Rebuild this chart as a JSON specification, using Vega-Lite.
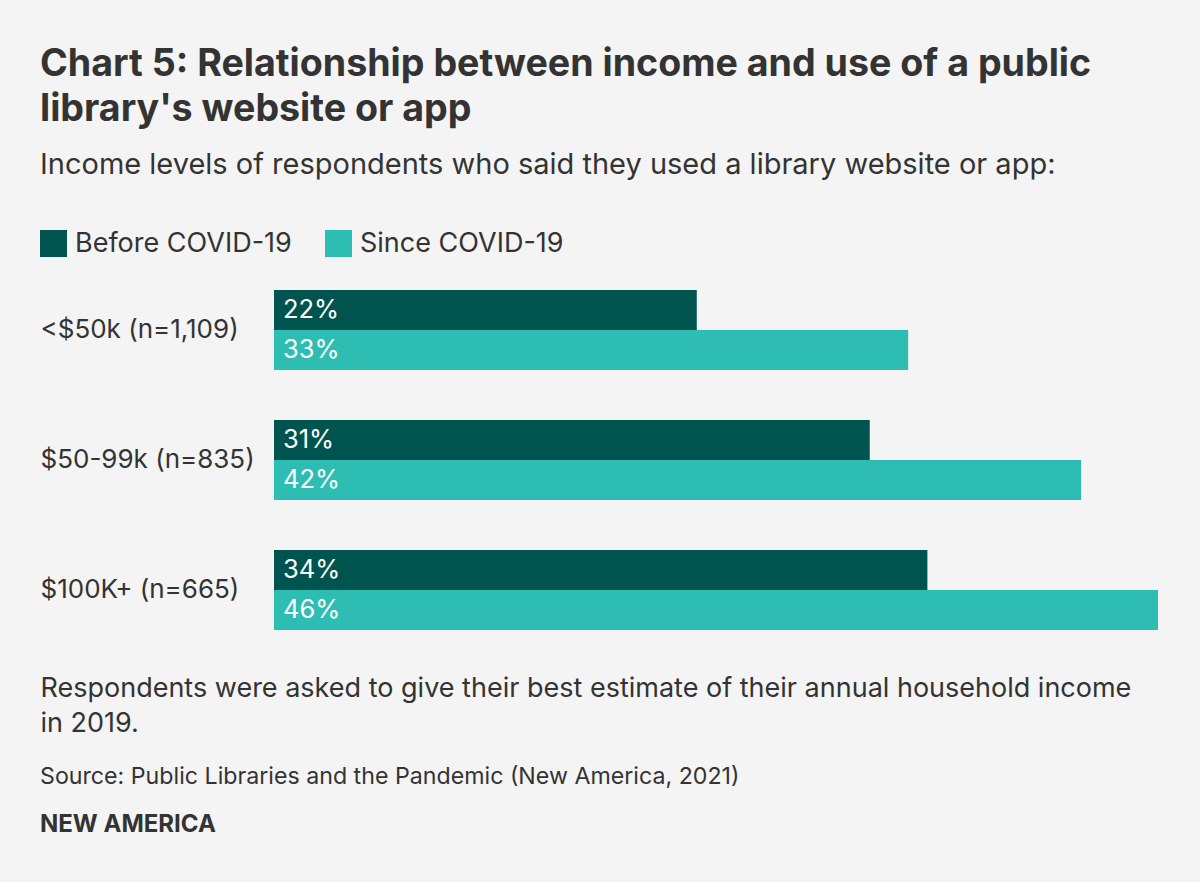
{
  "$schema": "https://vega.github.io/schema/vega-lite/v6.json",
  "background": "#f4f4f4",
  "padding": {"left": 40, "top": 46, "right": 42, "bottom": 50},
  "title": {
    "text": "Source: Public Libraries and the Pandemic (New America, 2021)",
    "subtitle": "NEW AMERICA",
    "orient": "bottom",
    "anchor": "start",
    "font": "Inter",
    "fontSize": 23.2,
    "fontWeight": "normal",
    "color": "#333333",
    "subtitleFont": "Inter",
    "subtitleFontSize": 24,
    "subtitleFontWeight": "bold",
    "subtitleColor": "#333333",
    "subtitlePadding": 24,
    "offset": 30
  },
  "vconcat": [
    {
      "title": {
        "text": ["Chart 5: Relationship between income and use of a public", "library's website or app"],
        "subtitle": "Income levels of respondents who said they used a library website or app:",
        "anchor": "start",
        "font": "Inter",
        "fontSize": 37.6,
        "fontWeight": "bold",
        "lineHeight": 45,
        "color": "#333333",
        "subtitleFont": "Inter",
        "subtitleFontSize": 29,
        "subtitleColor": "#333333",
        "subtitlePadding": 22,
        "offset": 110
      },
      "width": 884,
      "height": 340,
      "data": {
        "values": [
          {"group": "<$50k (n=1,109)", "period": "Before COVID-19", "value": 0.22},
          {"group": "<$50k (n=1,109)", "period": "Since COVID-19", "value": 0.33},
          {"group": "$50-99k (n=835)", "period": "Before COVID-19", "value": 0.31},
          {"group": "$50-99k (n=835)", "period": "Since COVID-19", "value": 0.42},
          {"group": "$100K+ (n=665)", "period": "Before COVID-19", "value": 0.34},
          {"group": "$100K+ (n=665)", "period": "Since COVID-19", "value": 0.46}
        ]
      },
      "encoding": {
        "y": {
          "field": "group",
          "type": "nominal",
          "sort": ["<$50k (n=1,109)", "$50-99k (n=835)", "$100K+ (n=665)"],
          "scale": {"paddingInner": 0.3846, "paddingOuter": 0},
          "axis": {
            "title": null,
            "domain": false,
            "ticks": false,
            "grid": false,
            "labelAlign": "left",
            "labelPadding": 234,
            "labelFont": "Inter",
            "labelFontSize": 26,
            "labelColor": "#333333",
            "labelLimit": 300
          }
        },
        "yOffset": {
          "field": "period",
          "type": "nominal",
          "sort": ["Before COVID-19", "Since COVID-19"],
          "scale": {"paddingInner": 0, "paddingOuter": 0}
        }
      },
      "layer": [
        {
          "mark": {"type": "bar"},
          "encoding": {
            "x": {
              "field": "value",
              "type": "quantitative",
              "scale": {"domain": [0, 0.46], "nice": false, "zero": true},
              "axis": {
                "title": ["Respondents were asked to give their best estimate of their annual household income", "in 2019."],
                "labels": false,
                "ticks": false,
                "domain": false,
                "grid": false,
                "titleAnchor": "start",
                "titleAlign": "left",
                "titleX": -234,
                "titlePadding": 45,
                "titleFont": "Inter",
                "titleFontSize": 27,
                "titleFontWeight": "normal",
                "titleColor": "#333333",
                "titleLineHeight": 35,
                "titleLimit": 1200
              }
            },
            "color": {
              "field": "period",
              "type": "nominal",
              "sort": ["Before COVID-19", "Since COVID-19"],
              "scale": {"range": ["#00544f", "#2ebdb3"]},
              "legend": {
                "title": null,
                "orient": "none",
                "direction": "horizontal",
                "legendX": -234,
                "legendY": -60,
                "symbolType": "square",
                "symbolSize": 729,
                "symbolStrokeWidth": 0,
                "symbolOpacity": 1,
                "labelFont": "Inter",
                "labelFontSize": 27,
                "labelColor": "#333333",
                "labelOffset": 8,
                "labelLimit": 400,
                "columnPadding": 33,
                "padding": 0
              }
            }
          }
        },
        {
          "mark": {"type": "text", "align": "left", "baseline": "middle", "dx": 9, "color": "#ffffff", "font": "Inter", "fontSize": 25.5},
          "encoding": {
            "x": {"datum": 0, "type": "quantitative"},
            "text": {"field": "value", "type": "quantitative", "format": ".0%"}
          }
        }
      ]
    }
  ],
  "config": {
    "view": {"stroke": null},
    "concat": {"spacing": 0}
  }
}
